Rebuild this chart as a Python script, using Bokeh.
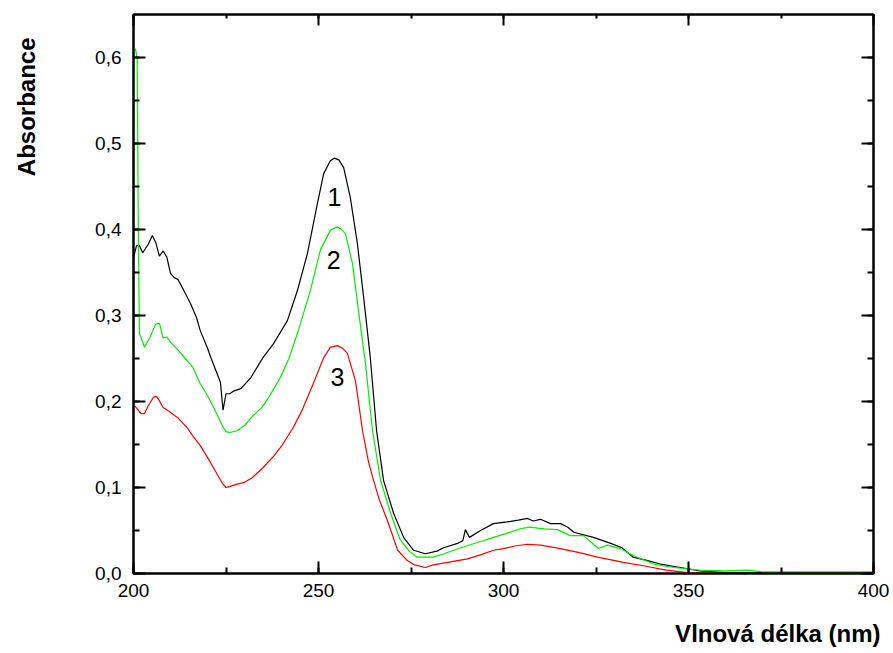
from bokeh.plotting import figure
from bokeh.layouts import row
from bokeh.models import (Range1d, LinearAxis, SingleIntervalTicker, CustomJSTickFormatter, Label, Title)
from bokeh.embed import file_html
from bokeh.resources import INLINE
import math

# ---- data ----
wl_1 = [200, 200.8, 201.5, 202.5, 204, 205.1, 206, 207, 208, 209, 210, 211, 212, 213.5, 215.4, 217,
        218, 220, 221, 223, 223.5, 224.2, 225, 226, 227, 229, 231.6, 235, 237.8, 241.6, 244.3, 247,
        249.7, 251.4, 253.2, 254.3, 255.5, 256.8, 258.6, 260.5, 262.2, 264, 265.7, 267.6, 270.3, 273,
        275.7, 278.9, 282, 283.8, 287.6, 289, 289.7, 290.8, 293.8, 297.3, 301, 304, 306.5, 308, 310,
        312.7, 315.4, 317.3, 319, 324.3, 329, 332, 335, 339, 342.4, 347.8, 353, 360, 370, 380, 400]
abs_1 = [0.367, 0.381, 0.382, 0.373, 0.383, 0.393, 0.385, 0.369, 0.375, 0.368, 0.349, 0.344, 0.342, 0.330,
         0.314, 0.298, 0.283, 0.262, 0.250, 0.228, 0.222, 0.190, 0.209, 0.209, 0.212, 0.215, 0.227, 0.251,
         0.267, 0.294, 0.329, 0.372, 0.430, 0.465, 0.480, 0.483, 0.481, 0.472, 0.437, 0.384, 0.321, 0.251,
         0.166, 0.108, 0.070, 0.042, 0.027, 0.023, 0.026, 0.030, 0.035, 0.038, 0.051, 0.042, 0.050, 0.058,
         0.060, 0.062, 0.064, 0.061, 0.063, 0.058, 0.058, 0.054, 0.048, 0.042, 0.035, 0.030, 0.019, 0.015,
         0.011, 0.007, 0.003, 0.001, 0.001, 0.001, 0.001]

wl_2 = [200, 200.5, 201, 201.3, 201.6, 203, 204.5, 206, 207, 208, 209, 210, 212, 214, 216, 218, 220, 222,
        224, 225, 226, 228, 230, 232, 234.9, 237, 239.7, 242, 244.3, 247.8, 250.5, 253.2, 254.9, 256,
        257.3, 259.2, 260.8, 262.7, 264.6, 266.8, 269.5, 272, 274.5, 276.7, 281, 284, 288.4, 293, 297.3,
        301, 304.6, 307, 311, 314.6, 318, 321.6, 325.7, 328, 331.6, 335, 340.6, 346, 353, 360, 366, 370,
        380, 400]
abs_2 = [0.610, 0.610, 0.600, 0.400, 0.279, 0.263, 0.275, 0.290, 0.291, 0.274, 0.275, 0.269, 0.260, 0.250,
         0.240, 0.221, 0.207, 0.190, 0.172, 0.165, 0.164, 0.166, 0.172, 0.182, 0.194, 0.208, 0.228, 0.250,
         0.279, 0.329, 0.376, 0.399, 0.403, 0.401, 0.395, 0.360, 0.306, 0.244, 0.166, 0.108, 0.070, 0.040,
         0.026, 0.019, 0.019, 0.023, 0.030, 0.036, 0.042, 0.047, 0.052, 0.054, 0.052, 0.051, 0.044, 0.044,
         0.029, 0.033, 0.029, 0.021, 0.011, 0.007, 0.004, 0.003, 0.004, 0.002, 0.002, 0.002]

wl_3 = [200, 200.5, 201.3, 202, 203, 204, 205.4, 206.2, 207, 208, 209.5, 211, 212, 214.6, 216, 218, 220,
        222, 224, 225, 226, 228, 230, 232, 235, 238, 240, 243.2, 245.6, 248.6, 251.4, 253.2, 255.1, 256.5,
        257.8, 260, 261.9, 263.5, 264.9, 266.5, 268.6, 271.4, 274, 276, 278.9, 281, 284.9, 290.3, 294,
        297.3, 300, 303, 306.5, 310, 315.4, 320.8, 325.4, 332.4, 337.8, 344, 349.7, 360, 400]
abs_3 = [0.195, 0.194, 0.190, 0.186, 0.186, 0.195, 0.205, 0.206, 0.201, 0.193, 0.189, 0.184, 0.181, 0.169,
         0.160, 0.149, 0.135, 0.120, 0.105, 0.100, 0.101, 0.104, 0.106, 0.111, 0.123, 0.137, 0.148, 0.170,
         0.190, 0.221, 0.251, 0.263, 0.265, 0.262, 0.256, 0.224, 0.166, 0.130, 0.108, 0.085, 0.062, 0.027,
         0.015, 0.010, 0.007, 0.010, 0.013, 0.017, 0.022, 0.027, 0.029, 0.032, 0.034, 0.033, 0.029, 0.024,
         0.019, 0.013, 0.009, 0.004, 0.001, 0.000, 0.000]

series_names = ["1", "2", "3"]
series_colors = ["#000000", "#00ee00", "#ff0000"]
label_pos = [(254.3, 0.438), (254.1, 0.364), (255.1, 0.228)]

x_title = "Vlnová délka (nm)"
y_title = "Absorbance"

FONT = "Liberation Sans"
STRIP = 40  # width of the narrow strip that carries the rotated y title

p = figure(frame_width=740, frame_height=559, output_backend="svg", toolbar_location=None,
           x_range=Range1d(200, 400), y_range=Range1d(0, 0.65),
           min_border_left=133 - STRIP, min_border_right=20, min_border_top=14, min_border_bottom=60,
           background_fill_color="white", border_fill_color="white")
p.outline_line_color = "black"
p.outline_line_width = 2
p.xgrid.visible = False
p.ygrid.visible = False

xt = SingleIntervalTicker(interval=50, num_minor_ticks=2)
yt = SingleIntervalTicker(interval=0.1, num_minor_ticks=2)

ax = p.xaxis[0]
ax.ticker = xt
ay = p.yaxis[0]
ay.ticker = yt
ay.formatter = CustomJSTickFormatter(code="return tick.toFixed(1).replace('.', ',');")

for a in (ax, ay):
    a.axis_line_width = 2
    a.major_tick_line_width = 2
    a.minor_tick_line_width = 2
    a.major_tick_in = 12
    a.major_tick_out = 0
    a.minor_tick_in = 6
    a.minor_tick_out = 0
    a.major_label_text_font = FONT
    a.major_label_text_font_size = "19px"
    a.major_label_text_color = "black"
ax.major_label_standoff = 10
ay.major_label_standoff = 12

blank = CustomJSTickFormatter(code="return '';")
right = LinearAxis(ticker=SingleIntervalTicker(interval=0.1, num_minor_ticks=2), formatter=blank,
                   major_label_text_font_size="0px", axis_line_width=2,
                   major_tick_in=12, major_tick_out=0, minor_tick_in=6, minor_tick_out=0,
                   major_tick_line_width=2, minor_tick_line_width=2, major_label_standoff=0)
top = LinearAxis(ticker=SingleIntervalTicker(interval=50, num_minor_ticks=2), formatter=blank,
                 major_label_text_font_size="0px", axis_line_width=2,
                 major_tick_in=11, major_tick_out=0, minor_tick_in=4, minor_tick_out=0,
                 major_tick_line_width=2, minor_tick_line_width=2, major_label_standoff=0)
p.add_layout(right, "right")
p.add_layout(top, "above")

p.add_layout(Title(text=x_title, align="right", offset=-7, standoff=36, text_font=FONT,
                   text_font_size="24px", text_font_style="bold", text_color="black"), "below")

for xs, ys, c in zip([wl_1, wl_2, wl_3], [abs_1, abs_2, abs_3], series_colors):
    p.line(xs, ys, line_color=c, line_width=1.2)

for name, (lx, ly) in zip(series_names, label_pos):
    p.add_layout(Label(x=lx, y=ly, text=name, text_font=FONT, text_font_size="25px",
                       text_align="center", text_baseline="middle", text_color="black"))

# narrow strip on the left holding the rotated y-axis title
strip = figure(width=STRIP, height=653, output_backend="svg", toolbar_location=None,
               x_range=Range1d(0, STRIP), y_range=Range1d(653, 0),
               x_axis_location=None, y_axis_location=None, min_border=0,
               background_fill_color="white", border_fill_color="white")
strip.outline_line_color = None
strip.grid.visible = False
strip.add_layout(Label(x=26, y=110, text=y_title, text_font=FONT, text_font_size="24px",
                       text_font_style="bold", text_align="center", text_baseline="middle",
                       angle=math.pi / 2, text_color="black"))

layout = row(strip, p, spacing=0)

open("out.html", "w").write(file_html(layout, INLINE))
